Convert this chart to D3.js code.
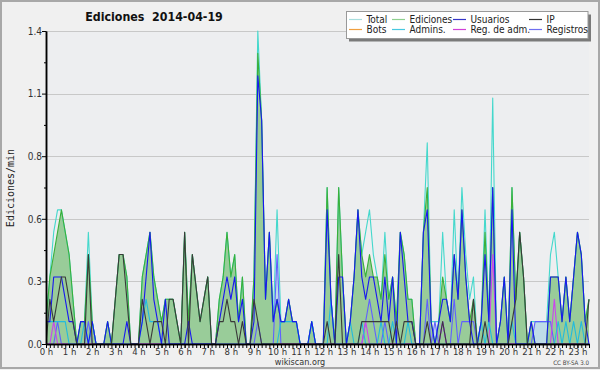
<!DOCTYPE html>
<html><head><meta charset="utf-8">
<script src="https://cdn.jsdelivr.net/npm/d3@7/dist/d3.min.js"></script>
<style>body{margin:0;background:#f0f0f0}svg{display:block}</style>
</head><body><svg id="c" width="600" height="370"></svg>
<script>
// ---- data (edits per minute, 10-minute bins, 2014-04-19) ----
const hourLabels = ["0 h","1 h","2 h","3 h","4 h","5 h","6 h","7 h","8 h","9 h","10 h","11 h","12 h","13 h","14 h","15 h","16 h","17 h","18 h","19 h","20 h","21 h","22 h","23 h"];
const yTicks = [0, 0.28, 0.56, 0.84, 1.12, 1.4];
const yMinor = [0.14, 0.42, 0.70, 0.98, 1.26];
const total = [0.1,0.3,0.5,0.6,0.6,0.5,0.4,0.2,0,0.1, 0.1,0.5,0.1,0,0,0,0.1,0,0.2,0.4, 0.4,0.3,0,0,0,0.3,0.4,0.5,0.3,0.2, 0.1,0.2,0.2,0.2,0.1,0,0.5,0.1,0.4,0.25, 0.1,0.2,0.3,0,0,0.2,0.3,0.5,0.3,0.4, 0.1,0.3,0,0,0.3,1.4,1.0,0.2,0.5,0.1, 0.6,0.1,0.1,0.2,0.1,0.1,0,0,0,0.1, 0,0,0,0.7,0.2,0,0.7,0.3,0,0.1, 0.3,0.6,0.4,0.5,0.6,0.4,0.3,0.2,0.5,0.2, 0.3,0.1,0.5,0.4,0.2,0.2,0,0,0.5,0.9, 0.1,0.1,0.1,0.5,0.2,0.1,0.6,0.2,0.7,0.4, 0.2,0.3,0,0.1,0.6,0.1,1.1,0,0.1,0.3, 0,0.7,0.2,0.5,0.3,0,0.1,0.1,0.1,0.1, 0.1,0.4,0.5,0.3,0.1,0.3,0.1,0.3,0.5,0.4, 0.1,0.2];
const ediciones = [0.1,0.3,0.4,0.5,0.6,0.5,0.4,0.2,0,0.1, 0.1,0.4,0.1,0,0,0,0.1,0,0.2,0.4, 0.4,0.3,0,0,0,0.3,0.4,0.5,0.3,0.2, 0.1,0.2,0.2,0.2,0.1,0,0.5,0.1,0.4,0.25, 0.1,0.2,0.3,0,0,0.2,0.3,0.5,0.3,0.4, 0.1,0.3,0,0,0.3,1.3,1.0,0.2,0.5,0.1, 0.2,0.1,0.1,0.2,0.1,0.1,0,0,0,0.1, 0,0,0,0.7,0.2,0,0.7,0.3,0,0.1, 0.3,0.6,0.4,0.3,0.4,0.3,0.3,0.2,0.4,0.2, 0.3,0.1,0.5,0.4,0.2,0.2,0,0,0.5,0.7, 0.1,0,0.1,0.3,0.2,0.1,0.4,0.2,0.6,0.3, 0.1,0.2,0,0.1,0.5,0.1,0.7,0,0.1,0.3, 0,0.7,0.2,0.5,0.3,0,0.1,0,0,0, 0,0.3,0.3,0.3,0.1,0.3,0.1,0.3,0.5,0.4, 0.1,0.2];
const usuarios = [0.1,0.1,0.3,0.3,0.3,0.2,0.1,0.1,0,0.1, 0.1,0,0.1,0,0,0,0.1,0,0,0, 0,0.1,0,0,0,0.1,0.3,0.5,0.2,0.1, 0,0.2,0,0,0,0,0,0.1,0,0, 0,0,0,0,0,0.1,0.2,0.3,0.2,0.3, 0.1,0.2,0,0,0.1,1.2,1.0,0.2,0.5,0.1, 0.2,0.1,0.1,0.2,0.1,0.1,0,0,0,0.1, 0,0,0,0.6,0.2,0,0.3,0.3,0,0.1, 0.3,0.6,0.3,0.2,0.3,0.3,0.2,0.1,0.3,0.1, 0.3,0,0.5,0.3,0.1,0.1,0,0,0.5,0.6, 0.1,0,0.1,0.2,0.2,0.1,0.4,0.2,0.6,0.3, 0.1,0,0,0.1,0.4,0.1,0.7,0,0.1,0.3, 0,0.6,0,0,0,0,0.1,0,0,0, 0,0.3,0.3,0.3,0.1,0.3,0.1,0.3,0.5,0.4, 0.1,0];
const ip = [0,0.2,0.1,0.2,0.3,0.3,0.2,0.1,0,0, 0,0.4,0,0,0,0,0,0,0.2,0.4, 0.4,0.2,0,0,0,0.2,0.1,0,0.1,0.1, 0.1,0,0.2,0.2,0.1,0,0.5,0,0.4,0.25, 0.1,0.2,0.3,0,0,0.1,0.1,0.2,0.1,0.1, 0,0.1,0,0,0.2,0.1,0,0,0,0, 0,0,0,0,0,0,0,0,0,0, 0,0,0,0.1,0,0,0.4,0,0,0, 0,0,0.1,0.1,0.1,0.1,0.1,0.1,0.1,0.1, 0,0.1,0,0.1,0.1,0.1,0,0,0,0.1, 0,0,0,0.1,0,0,0,0,0,0, 0,0.2,0,0,0.1,0,0,0,0,0, 0,0.1,0.2,0.5,0.3,0,0,0,0,0, 0,0,0,0,0,0,0,0,0,0, 0,0.2];
const bots = [0,0,0,0,0,0,0,0,0,0, 0,0,0,0,0,0,0,0,0,0, 0,0,0,0,0,0,0,0,0,0, 0,0,0,0,0,0,0,0,0,0, 0,0,0,0,0,0,0,0,0,0, 0,0,0,0,0,0,0,0,0,0, 0,0,0,0,0,0,0,0,0,0, 0,0,0,0,0,0,0,0,0,0, 0,0,0,0,0,0,0,0,0,0, 0,0,0,0,0,0,0,0,0,0, 0,0,0,0,0,0,0,0,0,0, 0,0,0,0,0,0,0,0,0,0, 0,0,0,0,0,0,0,0,0,0, 0,0,0,0,0,0,0,0,0,0, 0,0];
const admins = [0.1,0.1,0.1,0.1,0.1,0.1,0,0,0,0, 0.1,0,0.1,0,0,0,0,0,0,0, 0,0,0,0,0,0.1,0.2,0.1,0.1,0.1, 0,0,0,0,0,0,0,0,0,0, 0,0,0,0,0,0,0,0,0,0, 0,0,0,0,0,0,0,0,0,0, 0,0.1,0.1,0.1,0.1,0.1,0,0,0,0.1, 0,0,0,0,0.2,0,0,0,0,0.1, 0,0,0.1,0,0,0,0,0.1,0,0, 0.1,0,0,0,0.1,0,0,0,0,0, 0,0,0,0,0,0,0,0,0,0, 0,0,0,0.1,0,0.1,0,0,0,0, 0,0.1,0,0,0,0,0,0,0,0, 0,0,0,0.1,0,0.1,0,0.1,0,0.1, 0,0];
const regAdm = [0,0,0.1,0,0,0,0,0,0,0, 0,0,0,0,0,0,0,0,0,0, 0,0,0,0,0,0,0,0,0,0, 0,0,0,0,0,0,0,0,0,0, 0,0,0,0,0,0,0,0,0,0, 0,0,0,0,0,0,0,0,0,0, 0,0,0,0,0,0,0,0,0,0, 0,0,0,0,0,0,0,0,0,0, 0,0,0,0.1,0,0,0,0,0,0, 0,0,0,0,0,0,0,0,0,0, 0,0,0,0.1,0,0,0,0,0,0, 0,0,0,0,0,0,0.4,0,0,0, 0,0,0,0,0,0,0,0,0,0, 0,0,0.2,0,0,0,0,0,0,0, 0,0];
const registros = [0,0,0,0.1,0,0,0,0,0,0, 0,0.1,0,0,0,0,0,0,0,0, 0,0,0,0,0,0,0,0,0,0, 0,0,0,0,0,0,0,0,0,0, 0,0,0,0,0,0,0,0,0,0, 0,0,0,0,0,0.1,0,0,0,0, 0.4,0,0,0,0,0,0,0,0,0, 0,0,0,0,0,0,0,0,0,0, 0,0,0,0.1,0.2,0.1,0,0,0.1,0, 0,0,0,0,0,0,0,0,0,0.2, 0,0.1,0,0.1,0,0,0.2,0,0.1,0.1, 0.1,0.1,0,0,0,0,0,0,0,0, 0,0,0,0,0,0,0,0.1,0.1,0.1, 0.1,0.1,0,0,0,0,0,0,0,0, 0,0];

const legendItems = [
  {name:"Total", color:"#a8dede"}, {name:"Ediciones", color:"#8fd08f"},
  {name:"Usuarios", color:"#3535c8"}, {name:"IP", color:"#333333"},
  {name:"Bots", color:"#f0a040"}, {name:"Admins.", color:"#48c8e0"},
  {name:"Reg. de adm.", color:"#d040d8"}, {name:"Registros", color:"#6f6ff0"}
];

// ---- drawing ----
const svg = d3.select("#c");
const FC = "'DejaVu Sans Condensed','DejaVu Sans',sans-serif";
svg.append("rect").attr("x",1).attr("y",1).attr("width",598).attr("height",367)
  .attr("fill","#f0f0f0").attr("stroke","#a8a8a8").attr("stroke-width",2);

const X0 = 46, X1 = 589, Y0 = 344, Y1 = 31;
const x = d3.scaleLinear().domain([0, total.length - 1]).range([X0, X1]);
const y = d3.scaleLinear().domain([0, 1.4]).range([Y0, Y1]);

svg.append("rect").attr("x",X0).attr("y",Y1).attr("width",X1-X0).attr("height",Y0-Y1).attr("fill","#edeef0");

svg.append("g").selectAll("line").data(yTicks.filter(d => d > 0)).join("line")
  .attr("x1",X0).attr("x2",X1)
  .attr("y1",d => Math.round(y(d))+0.5).attr("y2",d => Math.round(y(d))+0.5)
  .attr("stroke","#c8c8c8").attr("stroke-width",1);

svg.append("clipPath").attr("id","plot").append("rect")
  .attr("x",X0).attr("y",Y1-3).attr("width",X1-X0+2).attr("height",Y0-Y1+3);
const g = svg.append("g").attr("clip-path","url(#plot)");

const area = d3.area().x((d,i) => x(i)).y0(y(0)).y1(d => y(d));
const line = d3.line().x((d,i) => x(i)).y(d => y(d));

g.append("path").attr("d", area(registros)).attr("fill","#bfdce8");
g.append("path").attr("d", area(ediciones)).attr("fill","#99cc99");

const series = [
  [total, "#44d8cc"], [ediciones, "#3ab03a"], [bots, "#f0a040"],
  [registros, "#6060ff"], [regAdm, "#cc44ee"], [admins, "#22bbdd"],
  [usuarios, "#1818f0"], [ip, "#3a3a3a"]
];
series.forEach(([data, color]) => {
  g.append("path").attr("d", line(data)).attr("fill","none")
    .attr("stroke", color).attr("stroke-width",1.1).attr("stroke-linejoin","round");
});

// axes
const xMinor = svg.append("g").attr("transform",`translate(0,${Y0})`)
  .call(d3.axisBottom(x).tickValues(d3.range(0, total.length)).tickSize(4).tickSizeOuter(0).tickFormat(""));
const xMajor = svg.append("g").attr("transform",`translate(0,${Y0})`)
  .call(d3.axisBottom(x).tickValues(hourLabels.map((_,h) => h*6)).tickSize(4).tickSizeOuter(0).tickPadding(0)
    .tickFormat((d,i) => hourLabels[i]));
const yAx = svg.append("g").attr("transform",`translate(${X0},0)`)
  .call(d3.axisLeft(y).tickValues(yTicks).tickFormat(d3.format(".1f")).tickSize(4).tickSizeOuter(0).tickPadding(0));
const yMin = svg.append("g").attr("transform",`translate(${X0},0)`)
  .call(d3.axisLeft(y).tickValues(yMinor).tickFormat("").tickSize(2).tickSizeOuter(0));

[xMinor, xMajor, yAx, yMin].forEach(a => {
  a.selectAll(".tick line").attr("stroke","#000").attr("stroke-width",1);
  a.select(".domain").attr("stroke","#000").attr("stroke-width",1.5);
});
xMajor.selectAll("text").attr("font-family",FC).attr("font-stretch","condensed").attr("font-size",9.5).attr("fill","#333");
yAx.selectAll("text").attr("font-family",FC).attr("font-stretch","condensed").attr("font-size",10).attr("fill","#333");

// title
svg.append("text").attr("x",154).attr("y",20.5).attr("text-anchor","middle")
  .attr("font-family",FC).attr("font-stretch","condensed").attr("font-weight","bold").attr("font-size",12.3)
  .attr("fill","#111").text("Ediciones  2014-04-19").style("white-space","pre");

// y title
svg.append("text").attr("transform","translate(14,188) rotate(-90)").attr("text-anchor","middle")
  .attr("font-family","'DejaVu Sans Mono',monospace").attr("font-size",10).attr("fill","#222").text("Ediciones/min");

// footer
svg.append("text").attr("x",300).attr("y",365).attr("text-anchor","middle")
  .attr("font-family",FC).attr("font-stretch","condensed").attr("font-size",9).attr("fill","#333").text("wikiscan.org");
svg.append("text").attr("x",589).attr("y",365).attr("text-anchor","end")
  .attr("font-family",FC).attr("font-stretch","condensed").attr("font-size",6.2).attr("fill","#444").text("CC BY-SA 3.0");

// legend
const lg = svg.append("g");
lg.append("rect").attr("x",349).attr("y",14.5).attr("width",242).attr("height",27).attr("fill","#7a7a7a");
lg.append("rect").attr("x",346.5).attr("y",11.5).attr("width",241.5).attr("height",27).attr("fill","#fff").attr("stroke","#999");
const colX = [349, 392, 453, 529];
const rowY = [19, 29];
legendItems.forEach((d, k) => {
  const cx = colX[k % 4], cy = rowY[Math.floor(k / 4)];
  lg.append("line").attr("x1",cx).attr("x2",cx+13).attr("y1",cy+0.5).attr("y2",cy+0.5)
    .attr("stroke",d.color).attr("stroke-width",1.2);
  lg.append("text").attr("x",cx+17.5).attr("y",cy+3.8)
    .attr("font-family",FC).attr("font-stretch","condensed").attr("font-size",10).attr("fill","#222").text(d.name);
});
</script></body></html>
